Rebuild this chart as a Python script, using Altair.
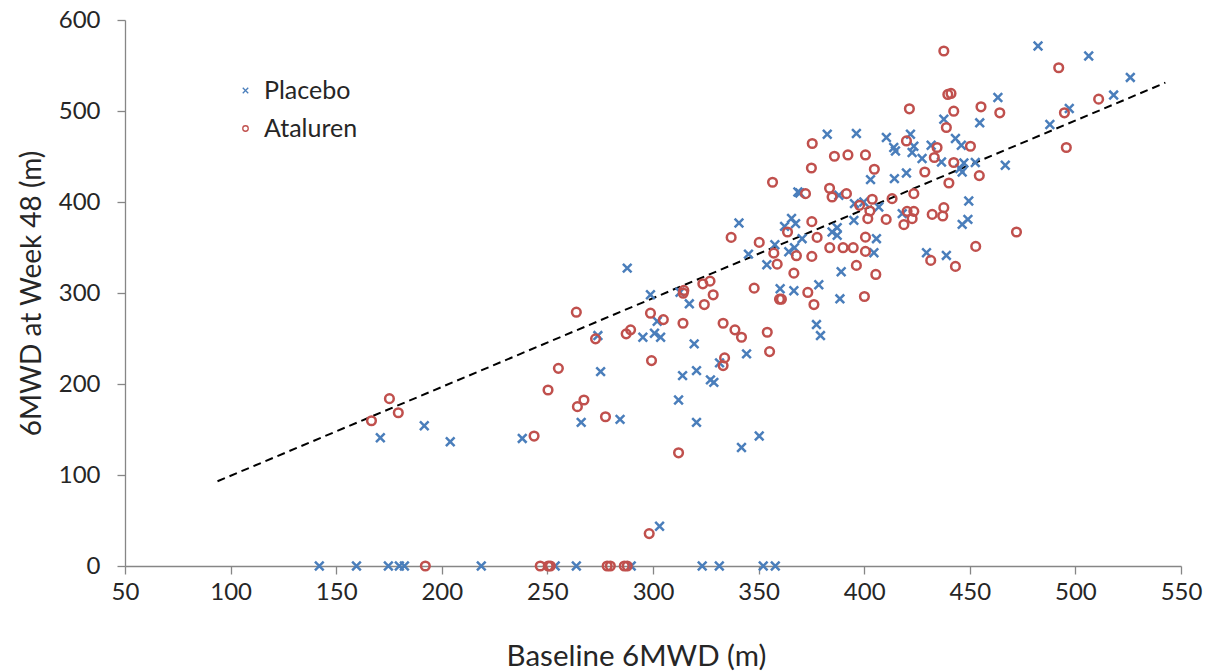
import altair as alt
import pandas as pd

# Placebo: baseline 6MWD (x) and 6MWD at week 48 (y)
placebo_x = [142.0, 159.6, 174.7, 179.9, 182.3, 218.7, 253.7, 263.7, 289.7, 323.3, 331.4, 352.2, 357.9,
             170.9, 191.7, 204.0,
             302.0, 317.2, 273.9, 295.2, 300.7, 303.6, 377.4, 379.3, 319.5, 275.2, 314.0, 320.6, 327.2, 328.8,
             331.5, 344.3, 266.0, 284.4, 312.1, 320.6, 238.1, 341.9, 350.3, 303.1,
             287.8, 298.8, 312.8, 340.7, 345.2, 353.9, 357.7, 360.2, 366.7, 362.3, 365.6, 367.5, 364.3, 367.0,
             370.6, 378.5, 368.6, 369.5, 388.0, 384.8, 387.2, 387.2, 389.1, 388.5,
             382.5, 396.3, 403.0, 410.5, 414.0, 414.8, 421.9, 423.5, 422.7, 427.4, 431.7, 443.2, 446.0, 454.7,
             436.6, 445.3, 447.2, 446.4, 452.6, 420.0, 414.3, 395.4, 399.8, 406.9, 395.1, 418.0, 449.5, 449.1,
             446.4, 429.5, 438.9, 405.8, 404.6,
             482.3, 506.3, 526.0, 463.3, 518.1, 497.1, 487.9, 466.8, 437.7]
placebo_y = [0, 0, 0, 0, 0, 0, 0, 0, 0, 0, 0, 0, 0,
             140.9, 154.1, 136.5,
             269.0, 288.1, 253.2, 251.4, 255.8, 251.4, 265.3, 253.2, 244.1, 213.6, 209.2, 214.7, 204.5, 201.8,
             223.2, 233.1, 157.8, 161.1, 182.4, 157.8, 140.2, 130.2, 142.8, 43.7,
             327.3, 298.0, 300.9, 376.9, 342.7, 331.1, 353.1, 304.6, 302.4, 373.2, 382.0, 376.2, 345.4, 349.8,
             359.7, 309.0, 411.0, 409.9, 407.4, 367.0, 371.8, 363.3, 323.4, 293.6,
             474.5, 475.3, 424.6, 470.9, 459.9, 456.1, 474.5, 461.3, 454.4, 447.8, 462.4, 469.8, 462.4, 487.0,
             444.0, 436.8, 442.9, 433.0, 443.4, 431.9, 425.7, 398.2, 400.0, 394.5, 379.8, 387.2, 401.1, 380.9,
             375.4, 344.3, 341.3, 359.7, 344.3,
             571.4, 560.4, 536.9, 514.9, 517.5, 502.8, 485.2, 440.4, 491.0]

# Ataluren
ataluren_x = [192.2, 246.6, 250.4, 251.4, 278.3, 279.8, 286.4, 287.8,
              166.7, 175.2, 179.4, 263.7, 298.8, 304.9, 314.2, 324.3, 272.8, 287.3, 289.4, 333.2,
              338.8, 341.9, 354.1, 376.2, 299.3, 255.2, 250.3, 333.9, 333.2, 355.2, 264.2, 267.3,
              277.5, 243.7, 312.1, 298.2, 314.6, 314.3, 323.6, 327.0, 328.5, 337.0, 347.9, 350.3,
              356.6, 357.2, 358.8, 359.9, 360.8, 366.7, 363.7, 367.9, 375.2, 377.7, 375.2, 373.3,
              372.2, 375.0, 383.6, 384.8, 385.9, 383.7, 390.0, 375.4, 392.3, 400.6, 404.8, 420.0,
              433.2, 434.5, 438.9, 450.3, 442.4, 454.5, 440.1, 428.7, 391.6, 397.8, 403.8, 402.7,
              401.7, 410.4, 413.2, 423.5, 420.3, 423.5, 422.7, 418.8, 432.2, 437.7, 437.2, 452.8,
              431.5, 443.2, 394.8, 400.6, 400.6, 396.3, 405.5, 400.1, 492.1, 455.3, 464.2, 511.0,
              494.8, 495.7, 437.7, 439.6, 441.1, 421.4, 442.4, 472.1]
ataluren_y = [0, 0, 0, 0, 0, 0, 0, 0,
              159.6, 183.9, 168.4, 278.9, 277.8, 270.8, 266.8, 287.3, 249.6, 255.1, 259.5, 266.8,
              259.5, 251.4, 256.9, 287.3, 225.7, 217.2, 193.4, 228.7, 220.2, 235.6, 175.1, 182.4,
              164.0, 142.8, 124.4, 35.6, 302.8, 299.8, 310.1, 313.0, 298.0, 361.1, 305.3, 355.6,
              421.7, 343.8, 331.7, 293.2, 293.2, 321.8, 367.0, 341.0, 378.4, 361.1, 340.2, 300.6,
              409.2, 437.4, 415.1, 405.5, 450.3, 349.8, 349.8, 464.3, 451.7, 451.7, 436.0, 467.1,
              448.9, 459.9, 481.9, 461.3, 443.4, 429.0, 420.9, 433.0, 409.2, 396.3, 403.0, 390.1,
              381.7, 380.9, 403.7, 409.2, 389.7, 389.7, 381.7, 375.1, 386.4, 393.8, 384.6, 351.2,
              335.8, 329.2, 349.8, 361.4, 345.7, 330.3, 320.4, 296.2, 547.5, 504.6, 498.0, 513.0,
              498.0, 459.9, 565.9, 518.2, 519.3, 502.4, 499.8, 367.0]

# Dashed trend line end points
trend_x = [93.8, 542.6]
trend_y = [93.1, 531.1]

groups = ["Placebo", "Ataluren"]
colors = ["#4a7ebb", "#c0504d"]
cross_path = "M-1,-1L1,1M1,-1L-1,1"

pts = pd.DataFrame({
    "x": placebo_x + ataluren_x,
    "y": placebo_y + ataluren_y,
    "group": ["Placebo"] * len(placebo_x) + ["Ataluren"] * len(ataluren_x),
})
trend = pd.DataFrame({"x": trend_x, "y": trend_y})

FONT = "Lato"
x_scale = alt.Scale(domain=[50, 550], nice=False, zero=False)
y_scale = alt.Scale(domain=[0, 600], nice=False)

points = alt.Chart(pts).mark_point(filled=False, size=75, strokeWidth=2.5, opacity=1).encode(
    x=alt.X("x:Q", scale=x_scale, title="Baseline 6MWD (m)",
            axis=alt.Axis(values=list(range(50, 551, 50)), labelFlush=False, titleX=511)),
    y=alt.Y("y:Q", scale=y_scale, title="6MWD at Week 48 (m)",
            axis=alt.Axis(values=list(range(0, 601, 100)))),
    color=alt.Color("group:N", scale=alt.Scale(domain=groups, range=colors),
                    legend=alt.Legend(title=None, orient="none", legendX=108, legendY=58,
                                      labelFont=FONT, labelFontSize=25, labelColor="#262626",
                                      symbolSize=30, symbolStrokeWidth=1.3, rowPadding=12,
                                      labelOffset=6)),
    shape=alt.Shape("group:N", scale=alt.Scale(domain=groups, range=[cross_path, "circle"])),
)

line = alt.Chart(trend).mark_line(color="black", strokeWidth=2, strokeDash=[8, 5]).encode(
    x=alt.X("x:Q", scale=x_scale),
    y=alt.Y("y:Q", scale=y_scale),
)

chart = alt.layer(line, points).properties(
    width=1056, height=546,
    padding={"left": 18, "top": 8, "right": 5, "bottom": 0},
).configure_view(stroke=None).configure_axis(
    grid=False,
    domainColor="#868686", tickColor="#868686", domainWidth=1.3, tickWidth=1.3,
    tickSize=8,
    labelFont=FONT, labelFontSize=24, labelColor="#262626",
    titleFont=FONT, titleFontSize=28, titleColor="#262626", titleFontWeight="normal",
).configure_axisY(
    labelPadding=17, titlePadding=12,
).configure_axisX(
    labelPadding=6, titlePadding=38, titleFontSize=29.5,
)

chart.save("out.html", embed_options={"renderer": "svg", "actions": False})
